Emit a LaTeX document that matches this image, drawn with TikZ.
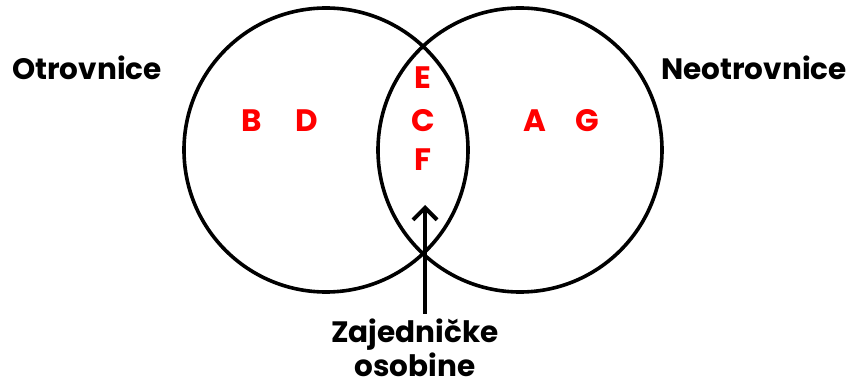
\documentclass[tikz,border=0pt]{standalone}
\usepackage{fontspec}
\setmainfont{Poppins}
\usetikzlibrary{arrows.meta}
\begin{document}
\begin{tikzpicture}[x=1pt,y=1pt,
  ring/.style={draw=black,line width=3.6pt},
  title/.style={font=\bfseries\fontsize{29.5}{36}\selectfont,text=black},
  member/.style={font=\bfseries\fontsize{31}{36}\selectfont,text=red},
  pointer/.style={line width=4pt,-{Straight Barb[length=12pt,width=24pt,line width=4pt]}}]
\useasboundingbox (0,0) rectangle (852,383);
% the two sets
\draw[ring] (326,233) circle[radius=142];
\draw[ring] (520,233) circle[radius=142];
% set names
\node[title] (otr) at (87,315) {Otrovnice};
\node[title] (neo) at (754,315) {Neotrovnice};
% members
\node[member] (b) at (252,262) {B};
\node[member] (d) at (307,262) {D};
\node[member] (e) at (423,305) {E};
\node[member] (c) at (423,262) {C};
\node[member] (f) at (423,223) {F};
\node[member] (a) at (535,262) {A};
\node[member] (g) at (587,262) {G};
% common part label and arrow
\node[title,align=center,inner sep=0pt] (zaj) at (415,35)
  {Zajedničke\\[-2pt]osobine};
\coordinate (tip) at (425,178);
\draw[pointer] (zaj.north -| tip) ++(0,5) -- (tip);
\end{tikzpicture}
\end{document}
